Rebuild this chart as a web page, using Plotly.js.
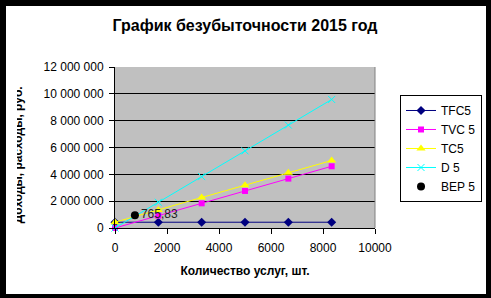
<!DOCTYPE html>
<html>
<head>
<meta charset="utf-8">
<script src="https://cdn.plot.ly/plotly-3.0.1.min.js"></script>
<style>
  html, body { margin: 0; padding: 0; background: #000; width: 491px; height: 298px; overflow: hidden; }
  #wrap { position: absolute; left: 6px; top: 6px; width: 480px; height: 288px; background: #fff; overflow: hidden; }
  #plot { position: absolute; left: 11px; top: 0; width: 469px; height: 288px; }
</style>
</head>
<body>
<div id="wrap"><div id="plot"></div></div>
<script>
// Data
const quantity = [0, 1667, 3333, 5000, 6667, 8333];
const tfc5 = [430000, 430000, 430000, 430000, 430000, 430000];
const tvc5 = [0, 920000, 1840000, 2760000, 3680000, 4600000];
const tc5  = [430000, 1350000, 2270000, 3190000, 4110000, 5030000];
const d5   = [0, 1920000, 3830000, 5750000, 7670000, 9580000];
const bepX = [765.83];
const bepY = [950000];
const bepLabel = ["765,83"];

const seriesNames = ["TFC5", "TVC 5", "TC5", "D 5", "BEP 5"];
const titleText = "График безубыточности 2015 год";
const xTitle = "Количество услуг, шт.";
const yTitle = "Доходы, расходы, руб.";

const font = "Liberation Sans, Arial, sans-serif";

const traces = [
  { x: quantity, y: tfc5, name: seriesNames[0], mode: "lines+markers",
    line: { color: "#000080", width: 1 }, marker: { symbol: "diamond", size: 7, color: "#000080" }, cliponaxis: false },
  { x: quantity, y: tvc5, name: seriesNames[1], mode: "lines+markers",
    line: { color: "#FF00FF", width: 1 }, marker: { symbol: "square", size: 6, color: "#FF00FF" }, cliponaxis: false },
  { x: quantity, y: tc5, name: seriesNames[2], mode: "lines+markers",
    line: { color: "#FFFF00", width: 1 }, marker: { symbol: "triangle-up", size: 8, color: "#FFFF00" }, cliponaxis: false },
  { x: quantity, y: d5, name: seriesNames[3], mode: "lines+markers",
    line: { color: "#00FFFF", width: 1 }, marker: { symbol: "x-thin-open", size: 7, color: "#00FFFF", line: { color: "#00FFFF", width: 1 } }, cliponaxis: false },
  { x: bepX, y: bepY, name: seriesNames[4], mode: "markers+text",
    text: bepLabel, textposition: "middle right", textfont: { family: font, size: 12, color: "#222" },
    marker: { symbol: "circle", size: 8, color: "#000" }, cliponaxis: false }
];

const layout = {
  width: 469, height: 288,
  margin: { l: 98, r: 111, t: 61, b: 66 },
  paper_bgcolor: "#fff",
  plot_bgcolor: "#C0C0C0",
  separators: ", ",
  font: { family: font, size: 12, color: "#000" },
  showlegend: true,
  title: { text: "<b>" + titleText + "</b>", font: { family: font, size: 16, color: "#000" },
           xref: "paper", x: 0.5, xanchor: "center", yref: "container", y: 0.934, yanchor: "middle" },
  xaxis: {
    range: [0, 10000], dtick: 2000, tick0: 0, tickformat: "d",
    showgrid: false, zeroline: false,
    showline: true, linecolor: "#000", linewidth: 1,
    ticks: "outside", ticklen: 5, tickcolor: "#000", ticklabelstandoff: 4,
    tickfont: { family: font, size: 12, color: "#000" },
    title: { text: "<b>" + xTitle + "</b>", font: { family: font, size: 12, color: "#000" }, standoff: 12 }
  },
  yaxis: {
    range: [0, 12000000], dtick: 2000000, tick0: 0, tickformat: ",d",
    showgrid: true, gridcolor: "#000", gridwidth: 1, zeroline: false,
    showline: true, linecolor: "#000", linewidth: 1,
    ticks: "outside", ticklen: 5, tickcolor: "#000", ticklabelstandoff: 3,
    tickfont: { family: font, size: 12, color: "#000" }
  },
  legend: {
    xref: "container", yref: "container",
    x: 0.9915, y: 0.691, xanchor: "right", yanchor: "top",
    bgcolor: "#fff", bordercolor: "#000", borderwidth: 1,
    font: { family: font, size: 12, color: "#000" },
    tracegroupgap: 0
  },
  shapes: [
    { type: "line", xref: "paper", yref: "paper", x0: 1, x1: 1, y0: 0, y1: 1,
      line: { color: "#808080", width: 1 } }
  ],
  annotations: [
    { text: "<b>" + yTitle + "</b>", textangle: -90, xref: "paper", yref: "paper",
      x: -0.372, y: 0.453, xanchor: "center", yanchor: "middle", showarrow: false,
      font: { family: font, size: 12, color: "#000" } }
  ]
};

Plotly.newPlot("plot", traces, layout, { displayModeBar: false, staticPlot: true });
</script>
</body>
</html>
